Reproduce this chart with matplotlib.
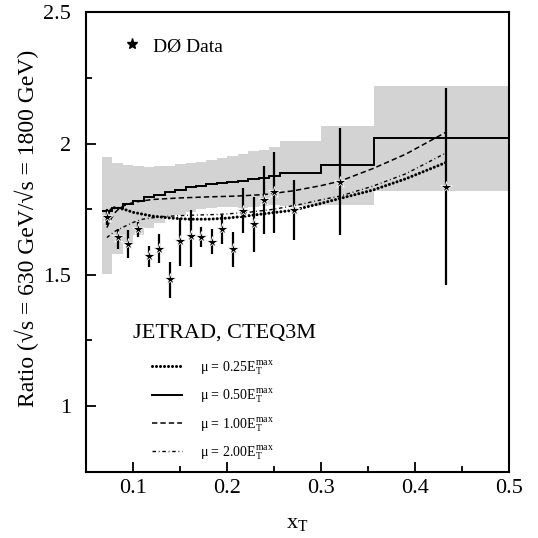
import numpy as np
import matplotlib
matplotlib.use("Agg")
from matplotlib import pyplot as plt
from matplotlib.lines import Line2D

plt.rcParams['font.family'] = ['Liberation Serif', 'DejaVu Serif']
plt.rcParams['mathtext.fontset'] = 'stix'

# D0 data points (ratio of cross sections)
xt = [0.0719, 0.0834, 0.0947, 0.1054, 0.1168, 0.1277, 0.1391, 0.1498, 0.1612, 0.1722,
      0.1835, 0.1949, 0.2059, 0.2172, 0.2279, 0.2392, 0.2502, 0.2712, 0.3195, 0.4331]
ratio = [1.721, 1.643, 1.616, 1.674, 1.572, 1.597, 1.483, 1.630, 1.648, 1.643,
         1.626, 1.673, 1.597, 1.744, 1.694, 1.785, 1.814, 1.747, 1.855, 1.834]
err_top = [1.750, 1.676, 1.671, 1.702, 1.611, 1.654, 1.550, 1.715, 1.747, 1.681,
           1.673, 1.728, 1.664, 1.830, 1.795, 1.914, 1.969, 1.861, 2.058, 2.210]
err_bot = [1.690, 1.600, 1.563, 1.643, 1.531, 1.544, 1.410, 1.533, 1.528, 1.605,
           1.579, 1.616, 1.528, 1.659, 1.588, 1.655, 1.660, 1.633, 1.652, 1.461]

# bin edges (xT) for the systematic band and the mu=0.5 histogram
edges = [0.0667, 0.0778, 0.0889, 0.1000, 0.1111, 0.1222, 0.1333, 0.1444, 0.1556, 0.1667, 0.1778,
         0.1889, 0.2000, 0.2111, 0.2222, 0.2333, 0.2444, 0.2556, 0.3000, 0.3556, 0.5000]
band_top = [1.950, 1.927, 1.920, 1.914, 1.912, 1.913, 1.916, 1.921, 1.926, 1.931,
            1.937, 1.944, 1.951, 1.960, 1.970, 1.977, 1.986, 2.010, 2.067, 2.219]
band_bot = [1.505, 1.579, 1.616, 1.650, 1.678, 1.699, 1.716, 1.729, 1.740, 1.749,
            1.755, 1.758, 1.759, 1.756, 1.758, 1.761, 1.766, 1.764, 1.767, 1.821]
mu050 = [1.743, 1.753, 1.768, 1.782, 1.795, 1.806, 1.816, 1.825, 1.833, 1.840,
         1.846, 1.851, 1.855, 1.858, 1.864, 1.869, 1.876, 1.887, 1.917, 2.020]

# JETRAD curves
mu025_x = [0.0719, 0.075, 0.08, 0.09, 0.10, 0.12, 0.14, 0.16, 0.18, 0.20, 0.22, 0.24,
           0.27, 0.295, 0.32, 0.355, 0.39, 0.432]
mu025_y = [1.722, 1.745, 1.756, 1.750, 1.738, 1.724, 1.716, 1.712, 1.712, 1.716, 1.724, 1.733,
           1.746, 1.768, 1.791, 1.823, 1.866, 1.927]
mu100_x = [0.0719, 0.075, 0.08, 0.085, 0.09, 0.10, 0.12, 0.15, 0.18, 0.21, 0.24, 0.27,
           0.30, 0.32, 0.355, 0.39, 0.432]
mu100_y = [1.680, 1.705, 1.735, 1.753, 1.763, 1.776, 1.787, 1.793, 1.797, 1.800, 1.806, 1.820,
           1.840, 1.857, 1.905, 1.960, 2.042]
mu200_x = [0.0719, 0.08, 0.09, 0.10, 0.11, 0.13, 0.16, 0.19, 0.22, 0.25, 0.28, 0.30,
           0.32, 0.355, 0.39, 0.432]
mu200_y = [1.642, 1.665, 1.683, 1.700, 1.712, 1.722, 1.727, 1.730, 1.737, 1.750, 1.770, 1.786,
           1.800, 1.838, 1.885, 1.963]

fig = plt.figure(figsize=(5.38, 5.38), dpi=100)
ax = fig.add_axes([0.1604, 0.1232, 0.7862, 0.8539])

ax.stairs(band_top, edges, baseline=band_bot, fill=True, color='#d3d3d3', lw=0, zorder=1)
ax.stairs(mu050, edges, baseline=None, color='k', lw=1.4, zorder=3)

dotted = (0, (0.01, 1.3))
dashed = (0, (3.5, 2.0))
dashdot = (0, (2.5, 2.0, 0.6, 2.0))
l025, = ax.plot(mu025_x, mu025_y, color='k', lw=2.2, ls=dotted, dash_capstyle='round', zorder=3)
l100, = ax.plot(mu100_x, mu100_y, color='k', lw=1.1, ls=dashed, zorder=3)
l200, = ax.plot(mu200_x, mu200_y, color='k', lw=1.0, ls=dashdot, zorder=3)

ratio_a = np.array(ratio)
yerr = [ratio_a - np.array(err_bot), np.array(err_top) - ratio_a]
ax.errorbar(xt, ratio, yerr=yerr, fmt='none', ecolor='k', elinewidth=1.6, capsize=0, zorder=4)
ax.plot(xt, ratio, ls='none', marker='*', ms=9, mfc='k', mec='white', mew=0.6, zorder=5)

ax.set_xlim(0.05, 0.5)
ax.set_ylim(0.75, 2.5)
ax.set_xticks([0.1, 0.2, 0.3, 0.4, 0.5])
ax.set_xticklabels(['0.1', '0.2', '0.3', '0.4', '0.5'])
ax.set_xticks(np.arange(0.05, 0.5, 0.05), minor=True)
ax.set_yticks([1, 1.5, 2, 2.5])
ax.set_yticklabels(['1', '1.5', '2', '2.5'])
ax.set_yticks([0.75, 1.25, 1.75, 2.25], minor=True)
ax.tick_params(which='both', direction='in', top=False, right=False, width=1.3, labelsize=16)
ax.tick_params(axis='x', pad=5)
ax.tick_params(axis='y', pad=11)
ax.tick_params(which='major', length=7)
ax.tick_params(which='minor', length=4)
for s in ax.spines.values():
    s.set_linewidth(1.5)

ax.set_xlabel('x$_\\mathregular{T}$', fontsize=16, labelpad=12)
ax.set_ylabel('Ratio (√s = 630 GeV/√s = 1800 GeV)', fontsize=17)
ax.yaxis.set_label_coords(-0.112, 0.53)

star = Line2D([], [], ls='none', marker='*', ms=8, mfc='k', mec='k')
leg1 = ax.legend([star], ['DØ Data'], loc='upper left', bbox_to_anchor=(0.085, 0.945),
                 frameon=False, fontsize=14, handlelength=1.0, handletextpad=0.6,
                 borderpad=0, borderaxespad=0)
ax.add_artist(leg1)

ax.text(0.111, 0.302, 'JETRAD, CTEQ3M', transform=ax.transAxes, fontsize=16, va='center', ha='left')

labels = ['μ = 0.25E$_\\mathregular{T}^\\mathregular{max}$', 'μ = 0.50E$_\\mathregular{T}^\\mathregular{max}$',
          'μ = 1.00E$_\\mathregular{T}^\\mathregular{max}$', 'μ = 2.00E$_\\mathregular{T}^\\mathregular{max}$']
h050 = Line2D([], [], color='k', lw=1.4)
ax.legend([l025, h050, l100, l200], labels, loc='upper left', bbox_to_anchor=(0.155, 0.245),
          frameon=False, fontsize=10, handlelength=2.2, handletextpad=1.3, labelspacing=0.75,
          borderpad=0, borderaxespad=0)

fig.savefig('out.png', dpi=100)
